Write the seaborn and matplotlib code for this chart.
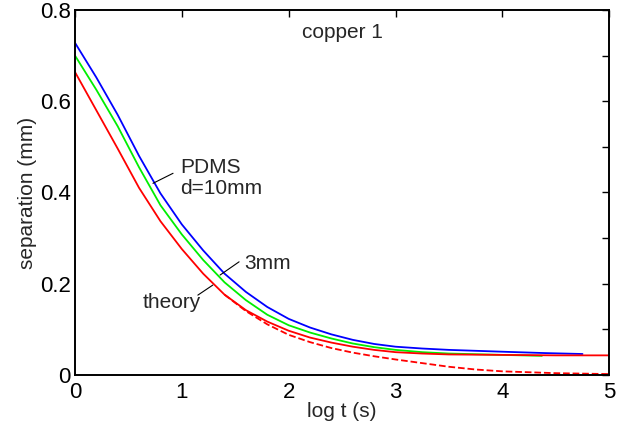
import matplotlib
matplotlib.use("Agg")
import matplotlib.pyplot as plt
import seaborn as sns
import pandas as pd

# values
blue_x = [0, 0.2, 0.4, 0.6, 0.8, 1.0, 1.2, 1.4, 1.6, 1.8, 2.0, 2.2, 2.4, 2.6, 2.8, 3.0, 3.25, 3.5, 4.0, 4.4, 4.75]
blue_y = [0.728, 0.652, 0.570, 0.480, 0.398, 0.330, 0.273, 0.222, 0.182, 0.149, 0.123, 0.104, 0.089, 0.077, 0.068,
          0.062, 0.058, 0.055, 0.051, 0.048, 0.046]

green_x = [0, 0.2, 0.4, 0.6, 0.8, 1.0, 1.2, 1.4, 1.6, 1.8, 2.0, 2.2, 2.4, 2.6, 2.8, 3.0, 3.25, 3.5, 4.0, 4.37]
green_y = [0.700, 0.625, 0.545, 0.455, 0.372, 0.308, 0.252, 0.203, 0.164, 0.132, 0.109, 0.093, 0.080, 0.069, 0.061,
           0.055, 0.050, 0.047, 0.044, 0.042]

red_x = [0, 0.2, 0.4, 0.6, 0.8, 1.0, 1.2, 1.4, 1.6, 1.8, 2.0, 2.2, 2.4, 2.6, 2.8, 3.0, 3.25, 3.5, 4.0, 4.5, 5.0]
red_y = [0.664, 0.580, 0.496, 0.410, 0.337, 0.276, 0.222, 0.176, 0.142, 0.117, 0.097, 0.082, 0.071, 0.062, 0.055,
         0.050, 0.047, 0.045, 0.044, 0.043, 0.043]

theory_x = [1.4, 1.6, 1.8, 2.0, 2.2, 2.4, 2.6, 2.8, 3.0, 3.25, 3.5, 3.75, 4.0, 4.5, 5.0]
theory_y = [0.176, 0.140, 0.111, 0.088, 0.072, 0.059, 0.049, 0.041, 0.034, 0.026, 0.018, 0.012, 0.008, 0.004, 0.002]

x_ticks = [0, 1, 2, 3, 4, 5]
y_ticks = [0, 0.1, 0.2, 0.3, 0.4, 0.5, 0.6, 0.7, 0.8]
y_labels = ["0", "", "0.2", "", "0.4", "", "0.6", "", "0.8"]

sns.set_style("white")
plt.rcParams['font.family'] = ['Liberation Sans', 'DejaVu Sans']

fig = plt.figure(figsize=(6.3, 4.24), dpi=100)
ax = fig.add_axes([0.119, 0.1156, 0.848, 0.861])

curves = [
    (blue_x, blue_y, "#0000ff", "-"),
    (green_x, green_y, "#00ee00", "-"),
    (red_x, red_y, "#ff0000", "-"),
    (theory_x, theory_y, "#ff0000", "--"),
]
for xs, ys, col, ls in curves:
    df = pd.DataFrame({"x": xs, "y": ys})
    sns.lineplot(data=df, x="x", y="y", ax=ax, color=col, linestyle=ls,
                 linewidth=1.3, sort=False, estimator=None)

ax.set_xlim(0, 5)
ax.set_ylim(0, 0.8)
ax.set_xticks(x_ticks)
ax.set_xticklabels([str(t) for t in x_ticks])
ax.set_yticks(y_ticks)
ax.set_yticklabels(y_labels)
ax.tick_params(axis="both", direction="in", length=5, width=1, top=True, right=True,
               labelsize=16, colors="black")
ax.tick_params(axis="x", pad=5)
ax.tick_params(axis="y", pad=3)
for s in ax.spines.values():
    s.set_linewidth(1.4)
    s.set_color("black")

ax.set_xlabel("log t (s)", fontsize=15, labelpad=-1)
ax.set_ylabel("separation (mm)", fontsize=15, labelpad=2)

fs = 15
ax.text(2.5, 0.75, "copper 1", ha="center", va="center", fontsize=fs)
ax.text(0.983, 0.432, "PDMS\nd=10mm", ha="left", va="center", fontsize=fs, linespacing=1.1)
ax.plot([0.73, 0.918], [0.42, 0.442], color="black", linewidth=0.8)
ax.text(1.58, 0.245, "3mm", ha="left", va="center", fontsize=fs)
ax.plot([1.358, 1.536], [0.219, 0.248], color="black", linewidth=0.8)
ax.text(0.637, 0.158, "theory", ha="left", va="center", fontsize=fs)
ax.plot([1.15, 1.29], [0.175, 0.197], color="black", linewidth=0.8)

fig.savefig("out.png", dpi=100)
